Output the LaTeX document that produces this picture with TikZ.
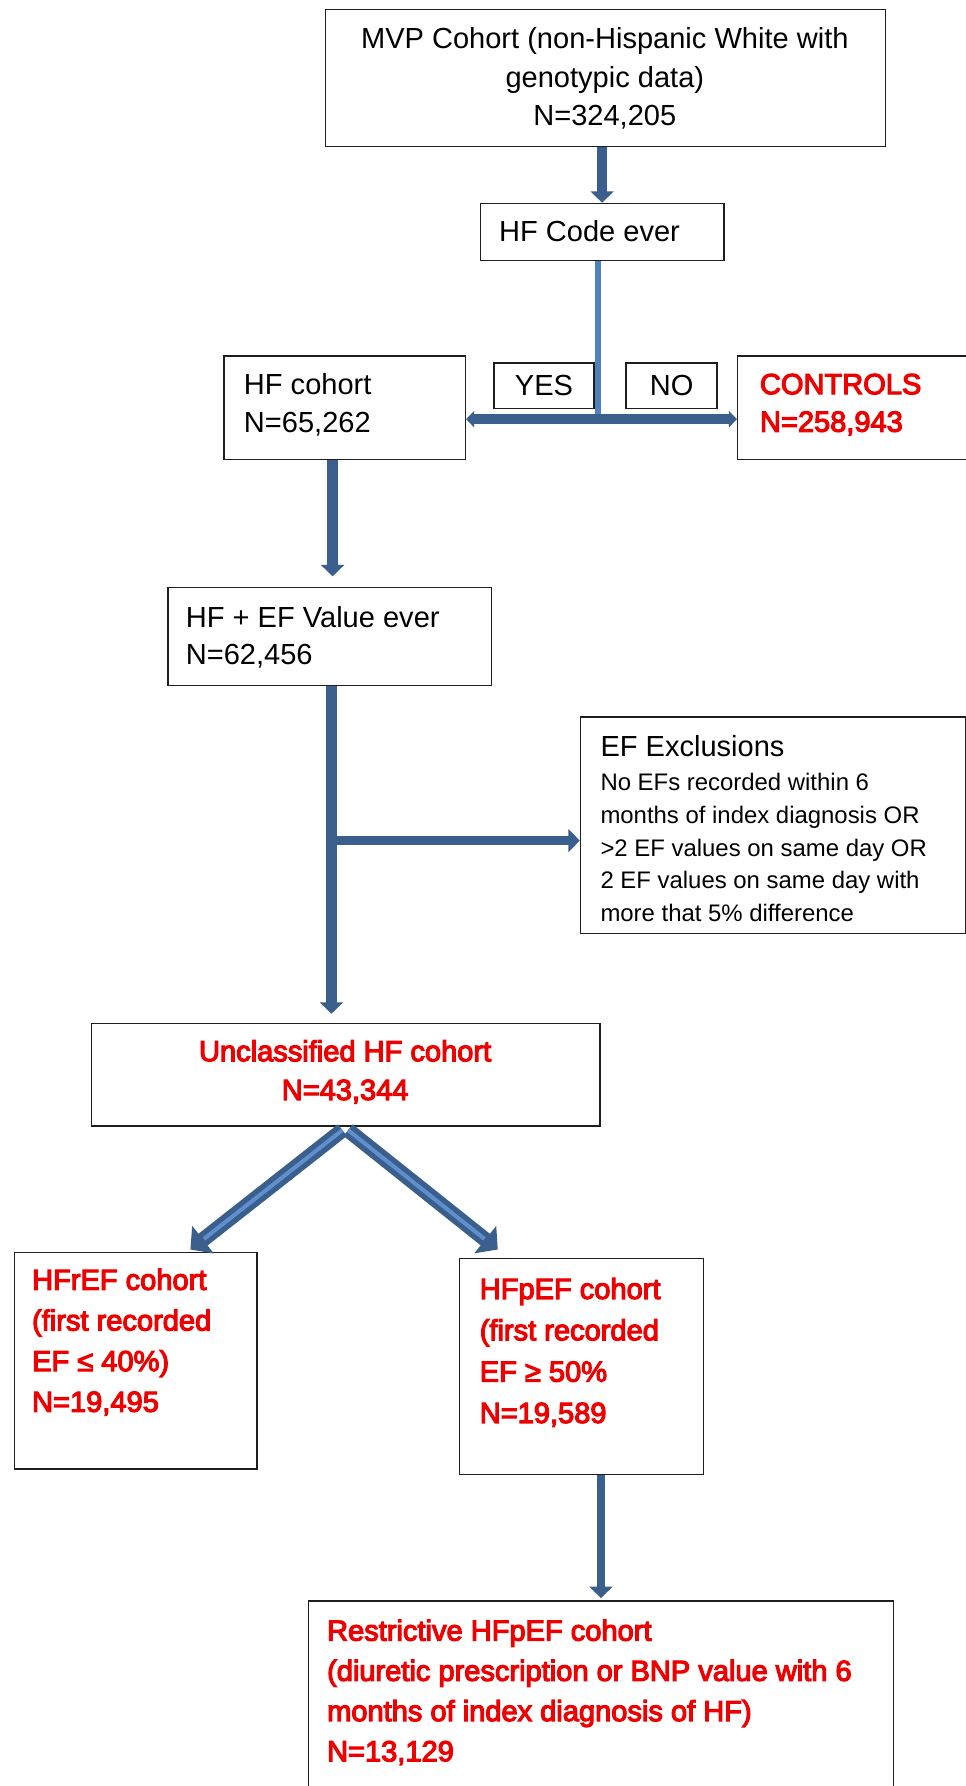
\documentclass[tikz,border=0pt]{standalone}
\usepackage{fontspec}
\setmainfont{Liberation Sans}
\newfontfamily\redfont[FakeBold=4]{Liberation Sans}
\usetikzlibrary{arrows.meta,calc}
\definecolor{arrblue}{HTML}{3B5F8D}
\definecolor{lightblue}{HTML}{4F81BD}
\definecolor{stripeblue}{HTML}{5F8FCC}
\definecolor{redtxt}{HTML}{EE0000}
\definecolor{boxline}{HTML}{1E1E1E}
\begin{document}
\begin{tikzpicture}[x=1pt,y=-1pt,
  box/.style={draw=boxline, line width=1.2pt, inner sep=0pt, anchor=north west,
    font=\fontsize{25.5}{33}\selectfont},
  txt/.style={inner sep=0pt, anchor=north west, align=left,
    font=\fontsize{25.5}{#1}\selectfont},
  txt/.default=33,
  redt/.style={inner sep=0pt, anchor=north west, align=left, text=redtxt,
    font=\redfont\fontsize{25.5}{#1}\selectfont},
  redt/.default=36,
  varrow/.style={draw=arrblue, line width=9pt, -{Triangle[width=20pt,length=10pt]}},
  hbar/.style={draw=arrblue, line width=8.5pt,
    {Triangle[width=14pt,length=7pt]}-{Triangle[width=14pt,length=7pt]}},
  lightline/.style={draw=lightblue, line width=4.5pt},
  diagarrow/.style={draw=arrblue, line width=13pt, -{Triangle[width=30pt,length=14pt]}},
  diagstripe/.style={draw=stripeblue, line width=3.5pt, shorten >=15pt}
]
\useasboundingbox (0,0) rectangle (848,1568);
\fill[white] (0,0) rectangle (848,1568);

% boxes
\node[box, minimum width=492pt, minimum height=120pt] (mvp) at (285,8) {};
\node[txt=34, anchor=north, align=center] (mvpt) at (531,23.9)
  {MVP Cohort (non-Hispanic White with\\genotypic data)\\N=324,205};

\node[box, minimum width=214pt, minimum height=50pt] (hfcode) at (421,178) {};
\node[txt, anchor=west] (hfcodet) at (438,203) {HF Code ever};

\node[box, minimum width=88pt, minimum height=40pt] (yes) at (433,318) {YES};
\node[box, minimum width=80pt, minimum height=40pt] (no) at (549,318) {NO};

\node[box, minimum width=212pt, minimum height=91pt] (hfcohort) at (196,312) {};
\node[txt] (hfcohortt) at (214,327.9) {HF cohort\\N=65,262};

\node[box, minimum width=215pt, minimum height=91pt] (controls) at (647,312) {};
\node[redt=33] (controlst) at (667,328) {CONTROLS\\N=258,943};

\node[box, minimum width=284pt, minimum height=86pt] (hfef) at (147,515) {};
\node[txt] (hfeft) at (163,531.9) {HF + EF Value ever\\N=62,456};

\node[box, minimum width=338.5pt, minimum height=190pt] (excl) at (509,629) {};
\node[txt, anchor=west] (exclt) at (527,655) {EF Exclusions};
\node[inner sep=0pt, anchor=north west, align=left, font=\fontsize{21}{28.8}\selectfont]
  (exclb) at (527,678.5)
  {No EFs recorded within 6\\months of index diagnosis OR\\>2 EF values on same day OR\\2 EF values on same day with\\more that 5\% difference};

\node[box, minimum width=446pt, minimum height=90pt] (uncl) at (80,898) {};
\node[redt=34, anchor=north, align=center] (unclt) at (303,913)
  {Unclassified HF cohort\\N=43,344};

\node[box, minimum width=213pt, minimum height=190pt] (hfr) at (12,1099) {};
\node[redt=35.7] (hfrt) at (28,1113.7)
  {HFrEF cohort\\(first recorded\\EF ≤ 40\%)\\N=19,495};

\node[box, minimum width=214pt, minimum height=190pt] (hfp) at (403,1104) {};
\node[redt=36.3] (hfpt) at (421,1121.7)
  {HFpEF cohort\\(first recorded\\EF ≥ 50\%\\N=19,589};

\node[box, minimum width=514pt, minimum height=185pt] (restr) at (270,1405) {};
\node[redt=35.3] (restrt) at (287,1421.7)
  {Restrictive HFpEF cohort\\(diuretic prescription or BNP value with 6\\months of index diagnosis of HF)\\N=13,129};

% connectors
\draw[varrow] (hfcode.north |- mvp.south) -- (hfcode.north);

\coordinate (j) at (525,368);
\draw[lightline] (hfcode.south -| j) -- (j);
\draw[hbar] (j -| hfcohort.east) -- (j -| controls.west);

\coordinate (c3) at (292,0);
\draw[varrow, shorten >=9pt] (c3 |- hfcohort.south) -- (c3 |- hfef.north);

\coordinate (c4) at (291,0);
\draw[varrow, shorten >=8pt] (c4 |- hfef.south) -- (c4 |- uncl.north);
\coordinate (br) at (291,738);
\draw[varrow, line width=8pt] (br) -- (br -| excl.west);

\draw[diagarrow] ([xshift=-3pt,yshift=-3pt]uncl.south) -- ([xshift=-59pt,yshift=2pt]hfr.north east);
\draw[diagstripe] ([xshift=-3pt,yshift=-3pt]uncl.south) -- ([xshift=-59pt,yshift=2pt]hfr.north east);
\draw[diagarrow] ([xshift=2pt,yshift=-3pt]uncl.south) -- ([xshift=34pt,yshift=7pt]hfp.north west);
\draw[diagstripe] ([xshift=2pt,yshift=-3pt]uncl.south) -- ([xshift=34pt,yshift=7pt]hfp.north west);

\draw[varrow, line width=7pt, shorten >=2pt] (restr.north |- hfp.south) -- (restr.north);
\end{tikzpicture}
\end{document}
